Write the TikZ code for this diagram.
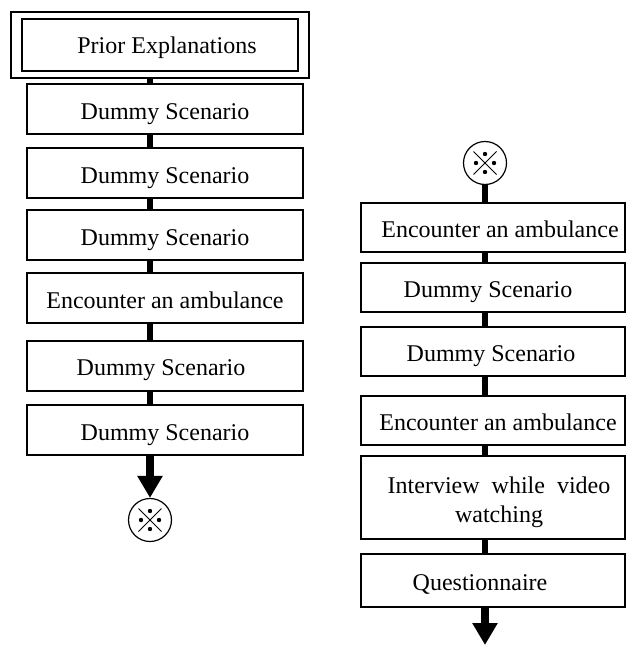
\documentclass[tikz,border=0pt]{standalone}
\usepackage{fontspec}
\setmainfont{Liberation Serif}
\usetikzlibrary{arrows.meta}

\begin{document}
\begin{tikzpicture}[x=1pt,y=-1pt,
  every node/.style={font=\fontsize{24}{29}\selectfont},
  stepbox/.style={draw, line width=2pt, rectangle, inner sep=0pt, text height=20pt, text depth=0pt},
  lbox/.style={stepbox, minimum width=276pt, minimum height=50pt},
  rbox/.style={stepbox, minimum width=264pt, minimum height=49pt},
  txt/.style={text height=20pt, text depth=0pt},
  link/.style={line width=6pt},
  flow/.style={line width=8pt, -{Triangle[width=24pt,length=22pt]}},
  connector/.style={draw, circle, line width=1.2pt, minimum size=43pt, inner sep=0pt},
]
\useasboundingbox (0,0) rectangle (628,645);

% spines of the two columns
\coordinate (L) at (150,0);
\coordinate (R) at (485,0);

% ---- left column ----
\node[stepbox, minimum width=276pt, minimum height=52pt] (prior) at (160,45) {};
\node[text height=16pt, text depth=0pt] at ([xshift=7pt]prior.center) {Prior Explanations};
\draw[line width=2.5pt] ([xshift=-10pt,yshift=6pt]prior.north west) rectangle ([xshift=10pt,yshift=-6pt]prior.south east);

\node[lbox] (d1) at (165,109) {Dummy Scenario};
\node[lbox] (d2) at (165,173) {Dummy Scenario};
\node[lbox] (d3) at (165,235) {Dummy Scenario};
\node[lbox] (e1) at (165,298) {Encounter an ambulance};
\node[lbox] (d4) at (165,365.5) {};
\node[txt] at ([xshift=-4pt]d4.center) {Dummy Scenario};
\node[lbox] (d5) at (165,430) {Dummy Scenario};

\node[connector] (c1) at (150,520) {};

\draw[link] ([yshift=-7pt]prior.south -| L) -- (d1.north -| L);
\draw[link] (d1.south -| L) -- (d2.north -| L);
\draw[link] (d2.south -| L) -- (d3.north -| L);
\draw[link] (d3.south -| L) -- (e1.north -| L);
\draw[link] (e1.south -| L) -- (d4.north -| L);
\draw[link] (d4.south -| L) -- (d5.north -| L);
\draw[flow] (d5.south -| L) -- (c1.north);

% ---- right column ----
\node[connector] (c2) at (485,163) {};

\node[rbox] (re1) at (493,227) {};
\node[txt] at ([xshift=7pt]re1.center) {Encounter an ambulance};
\node[rbox] (rd1) at (493,287.5) {};
\node[txt] at ([xshift=-5pt]rd1.center) {Dummy Scenario};
\node[rbox] (rd2) at (493,351) {};
\node[txt] at ([xshift=-2pt]rd2.center) {Dummy Scenario};
\node[rbox] (re2) at (493,420) {};
\node[txt] at ([xshift=5pt]re2.center) {Encounter an ambulance};
\node[rbox, minimum height=83pt] (ri) at (493,497.5) {};
\node[align=center] at ([xshift=6pt,yshift=-5pt]ri.center) {Interview\ \ while\ \ video\\watching};
\node[rbox, minimum height=53pt] (rq) at (493,580.5) {};
\node[txt] at ([xshift=-13pt]rq.center) {Questionnaire};

\coordinate (out) at (485,645);

\draw[link] (c2.south) -- (re1.north -| R);
\draw[link] (re1.south -| R) -- (rd1.north -| R);
\draw[link] (rd1.south -| R) -- (rd2.north -| R);
\draw[link] (rd2.south -| R) -- (re2.north -| R);
\draw[link] (re2.south -| R) -- (ri.north -| R);
\draw[link] (ri.south -| R) -- (rq.north -| R);
\draw[flow] (rq.south -| R) -- (out);

% ---- off-page connector marks ----
\foreach \c in {c1,c2}{
  \draw[line width=1pt] ([shift={(-11.5,-11.5)}]\c.center) -- ([shift={(11.5,11.5)}]\c.center);
  \draw[line width=1pt] ([shift={(-11.5,11.5)}]\c.center) -- ([shift={(11.5,-11.5)}]\c.center);
  \fill ([shift={(0,-9)}]\c.center) circle (2.2);
  \fill ([shift={(0,9)}]\c.center) circle (2.2);
  \fill ([shift={(-9,0)}]\c.center) circle (2.2);
  \fill ([shift={(9,0)}]\c.center) circle (2.2);
}
\end{tikzpicture}
\end{document}
